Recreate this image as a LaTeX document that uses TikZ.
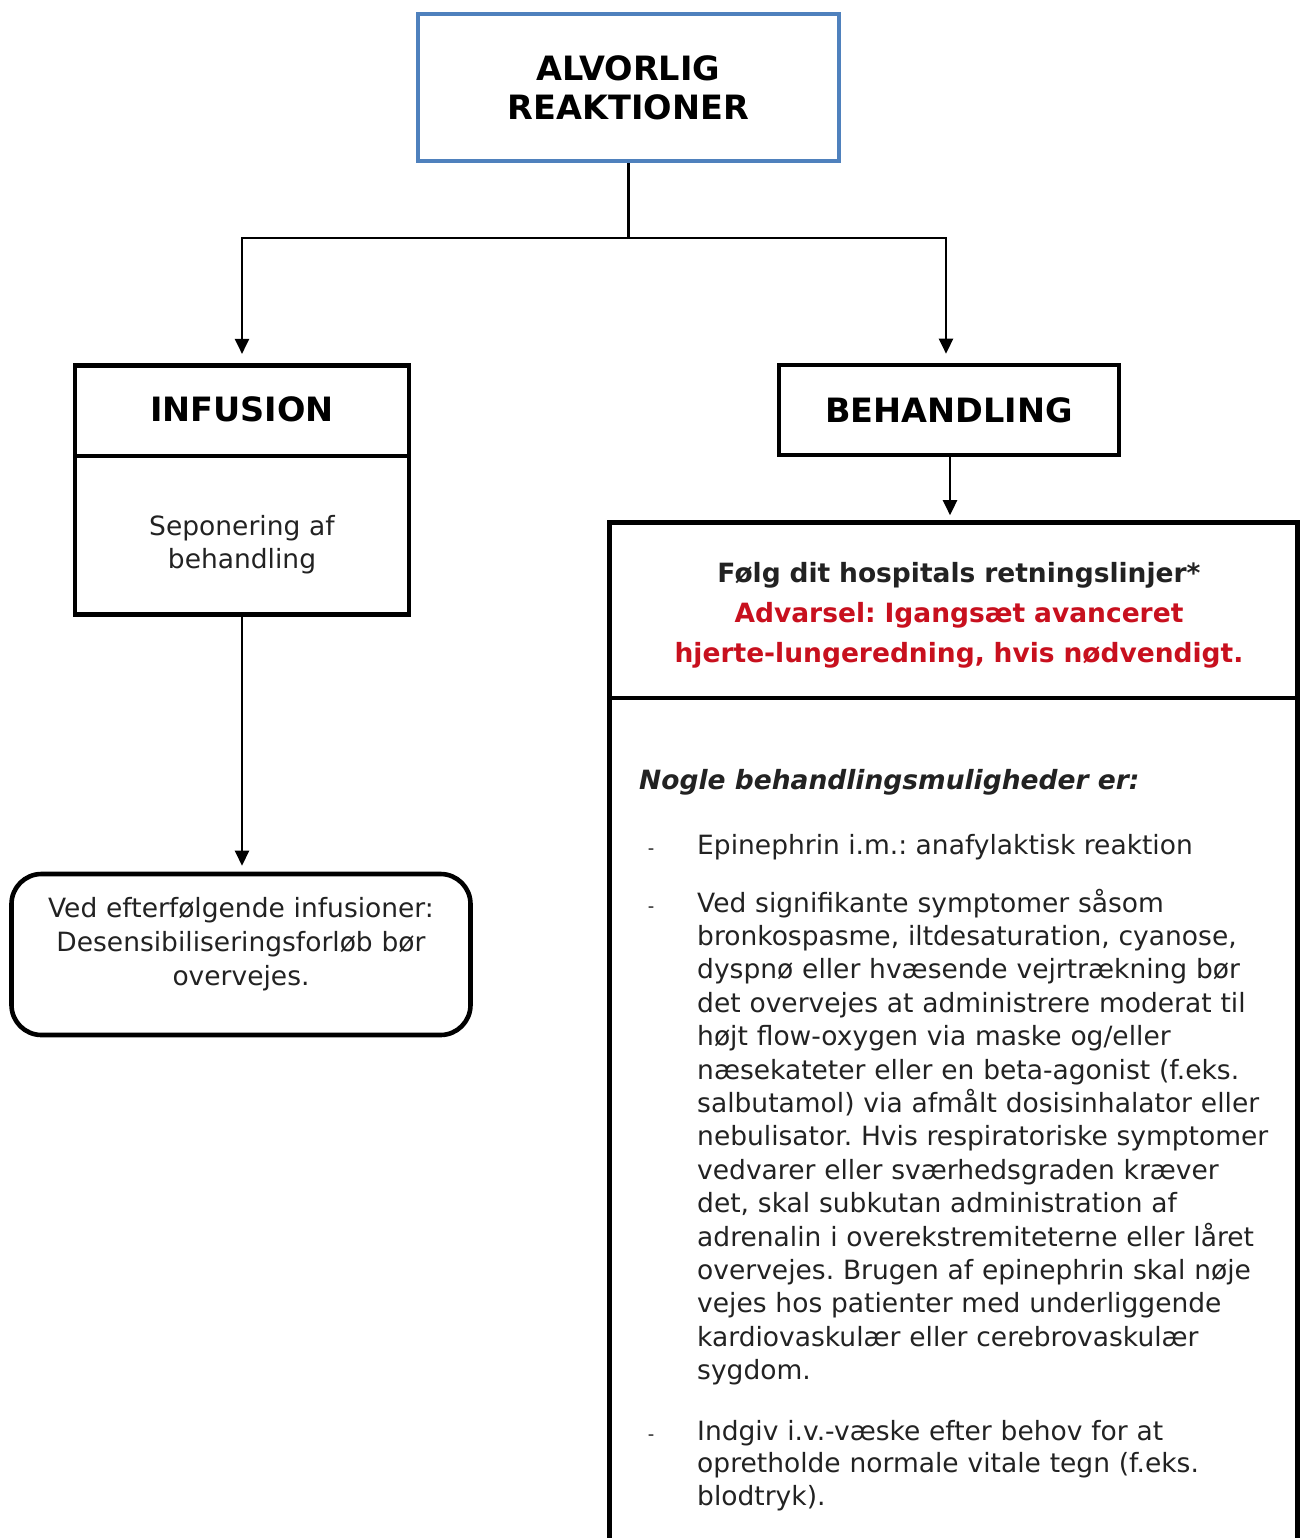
\documentclass[tikz,border=0pt]{standalone}
\usepackage{fontspec}
\setmainfont{DejaVu Sans}
\usetikzlibrary{arrows.meta}
\definecolor{boxblue}{RGB}{79,129,189}
\definecolor{txtgray}{RGB}{34,34,34}
\definecolor{warnred}{RGB}{200,16,30}
\frenchspacing
\begin{document}
\begin{tikzpicture}[x=1pt,y=-1pt,
  blk/.style={draw=black, line width=4.6pt, inner sep=0pt},
  headtxt/.style={font=\bfseries\fontsize{33.5}{38.5}\selectfont, text=black, align=center, inner sep=0pt},
  bodytxt/.style={font=\fontsize{26.5}{33.4}\selectfont, text=txtgray, inner sep=0pt},
  conn/.style={line width=2.5pt},
  arr/.style={line width=2.5pt, -{Triangle[length=15pt,width=14pt]}}
]
\useasboundingbox (0,0) rectangle (1301,1538);
\begin{scope}
\clip (0,0) rectangle (1301,1538);
% boxes
\node[draw=boxblue, line width=4.6pt, minimum width=421, minimum height=147] (top) at (628.5,87.5) {};
\node[blk, minimum width=334, minimum height=90.75] (infh) at (242,410.6) {};
\node[blk, minimum width=334, minimum height=158.75] (infb) at (242,535.4) {};
\node[blk, minimum width=340, minimum height=90] (beh) at (949,410) {};
\node[blk, minimum width=688, minimum height=175.5] (bigh) at (953.5,610.25) {};
\node[blk, minimum width=688, minimum height=902] (bigb) at (953.5,1149) {};
\node[blk, rounded corners=30pt, minimum width=459, minimum height=161] (rnd) at (241,954.5) {};
\end{scope}
% headings
\node[headtxt, text width=420, anchor=base] (ttop) at (628.5,81) {ALVORLIG\\REAKTIONER};
\node[headtxt, anchor=base] (tinf) at (242,421) {INFUSION};
\node[headtxt, anchor=base] (tbeh) at (949,422) {BEHANDLING};
% left texts
\node[bodytxt, text width=400, align=center, anchor=base] (tsep) at (242,535) {Seponering af\\behandling};
\node[bodytxt, text width=460, align=center, anchor=base, font=\fontsize{26.5}{34}\selectfont] (tved) at (241,917) {Ved efterfølgende infusioner:\\Desensibiliseringsforløb bør\\overvejes.};
% right header text
\node[inner sep=0pt, text width=680, align=center, anchor=base, font=\bfseries\fontsize{26.5}{40}\selectfont] (tfolg) at (959,582)
  {\textcolor{txtgray}{Følg dit hospitals retningslinjer*}\\\textcolor{warnred}{Advarsel: Igangsæt avanceret}\\\textcolor{warnred}{hjerte-lungeredning, hvis nødvendigt.}};
% body text
\node[bodytxt, anchor=base west, font=\bfseries\itshape\fontsize{26.5}{33.4}\selectfont] (tnog) at (639,789) {Nogle behandlingsmuligheder er:};
\node[bodytxt, anchor=base, font=\fontsize{18}{20}\selectfont] (d1) at (651,854) {-};
\node[bodytxt, anchor=base west] (b1) at (697,854) {Epinephrin i.m.: anafylaktisk reaktion};
\node[bodytxt, anchor=base, font=\fontsize{18}{20}\selectfont] (d2) at (651,912) {-};
\node[bodytxt, text width=620, align=left, anchor=base west] (b2) at (697,912) {Ved signifikante symptomer såsom\\
bronkospasme, iltdesaturation, cyanose,\\
dyspnø eller hvæsende vejrtrækning bør\\
det overvejes at administrere moderat til\\
højt flow-oxygen via maske og/eller\\
næsekateter eller en beta-agonist (f.eks.\\
salbutamol) via afmålt dosisinhalator eller\\
nebulisator. Hvis respiratoriske symptomer\\
vedvarer eller sværhedsgraden kræver\\
det, skal subkutan administration af\\
adrenalin i overekstremiteterne eller låret\\
overvejes. Brugen af epinephrin skal nøje\\
vejes hos patienter med underliggende\\
kardiovaskulær eller cerebrovaskulær\\
sygdom.};
\node[bodytxt, anchor=base, font=\fontsize{18}{20}\selectfont] (d3) at (651,1440) {-};
\node[bodytxt, text width=620, align=left, anchor=base west, font=\fontsize{26.5}{32.5}\selectfont] (b3) at (697,1440) {Indgiv i.v.-væske efter behov for at\\
opretholde normale vitale tegn (f.eks.\\
blodtryk).};
% connectors
\coordinate (split) at (628.5,238);
\draw[conn] (top.south) -- (split);
\draw[arr, shorten >=9pt] (split) -| (infh.north);
\draw[arr, shorten >=9pt] (split) -| ([xshift=-3pt]beh.north);
\draw[arr, shorten >=5pt] (beh.south) ++(1pt,0) coordinate (bs) (bs) -- (bs |- bigh.north);
\draw[arr, shorten >=6pt] (infb.south) -- (infb.south |- rnd.north);
\end{tikzpicture}
\end{document}
